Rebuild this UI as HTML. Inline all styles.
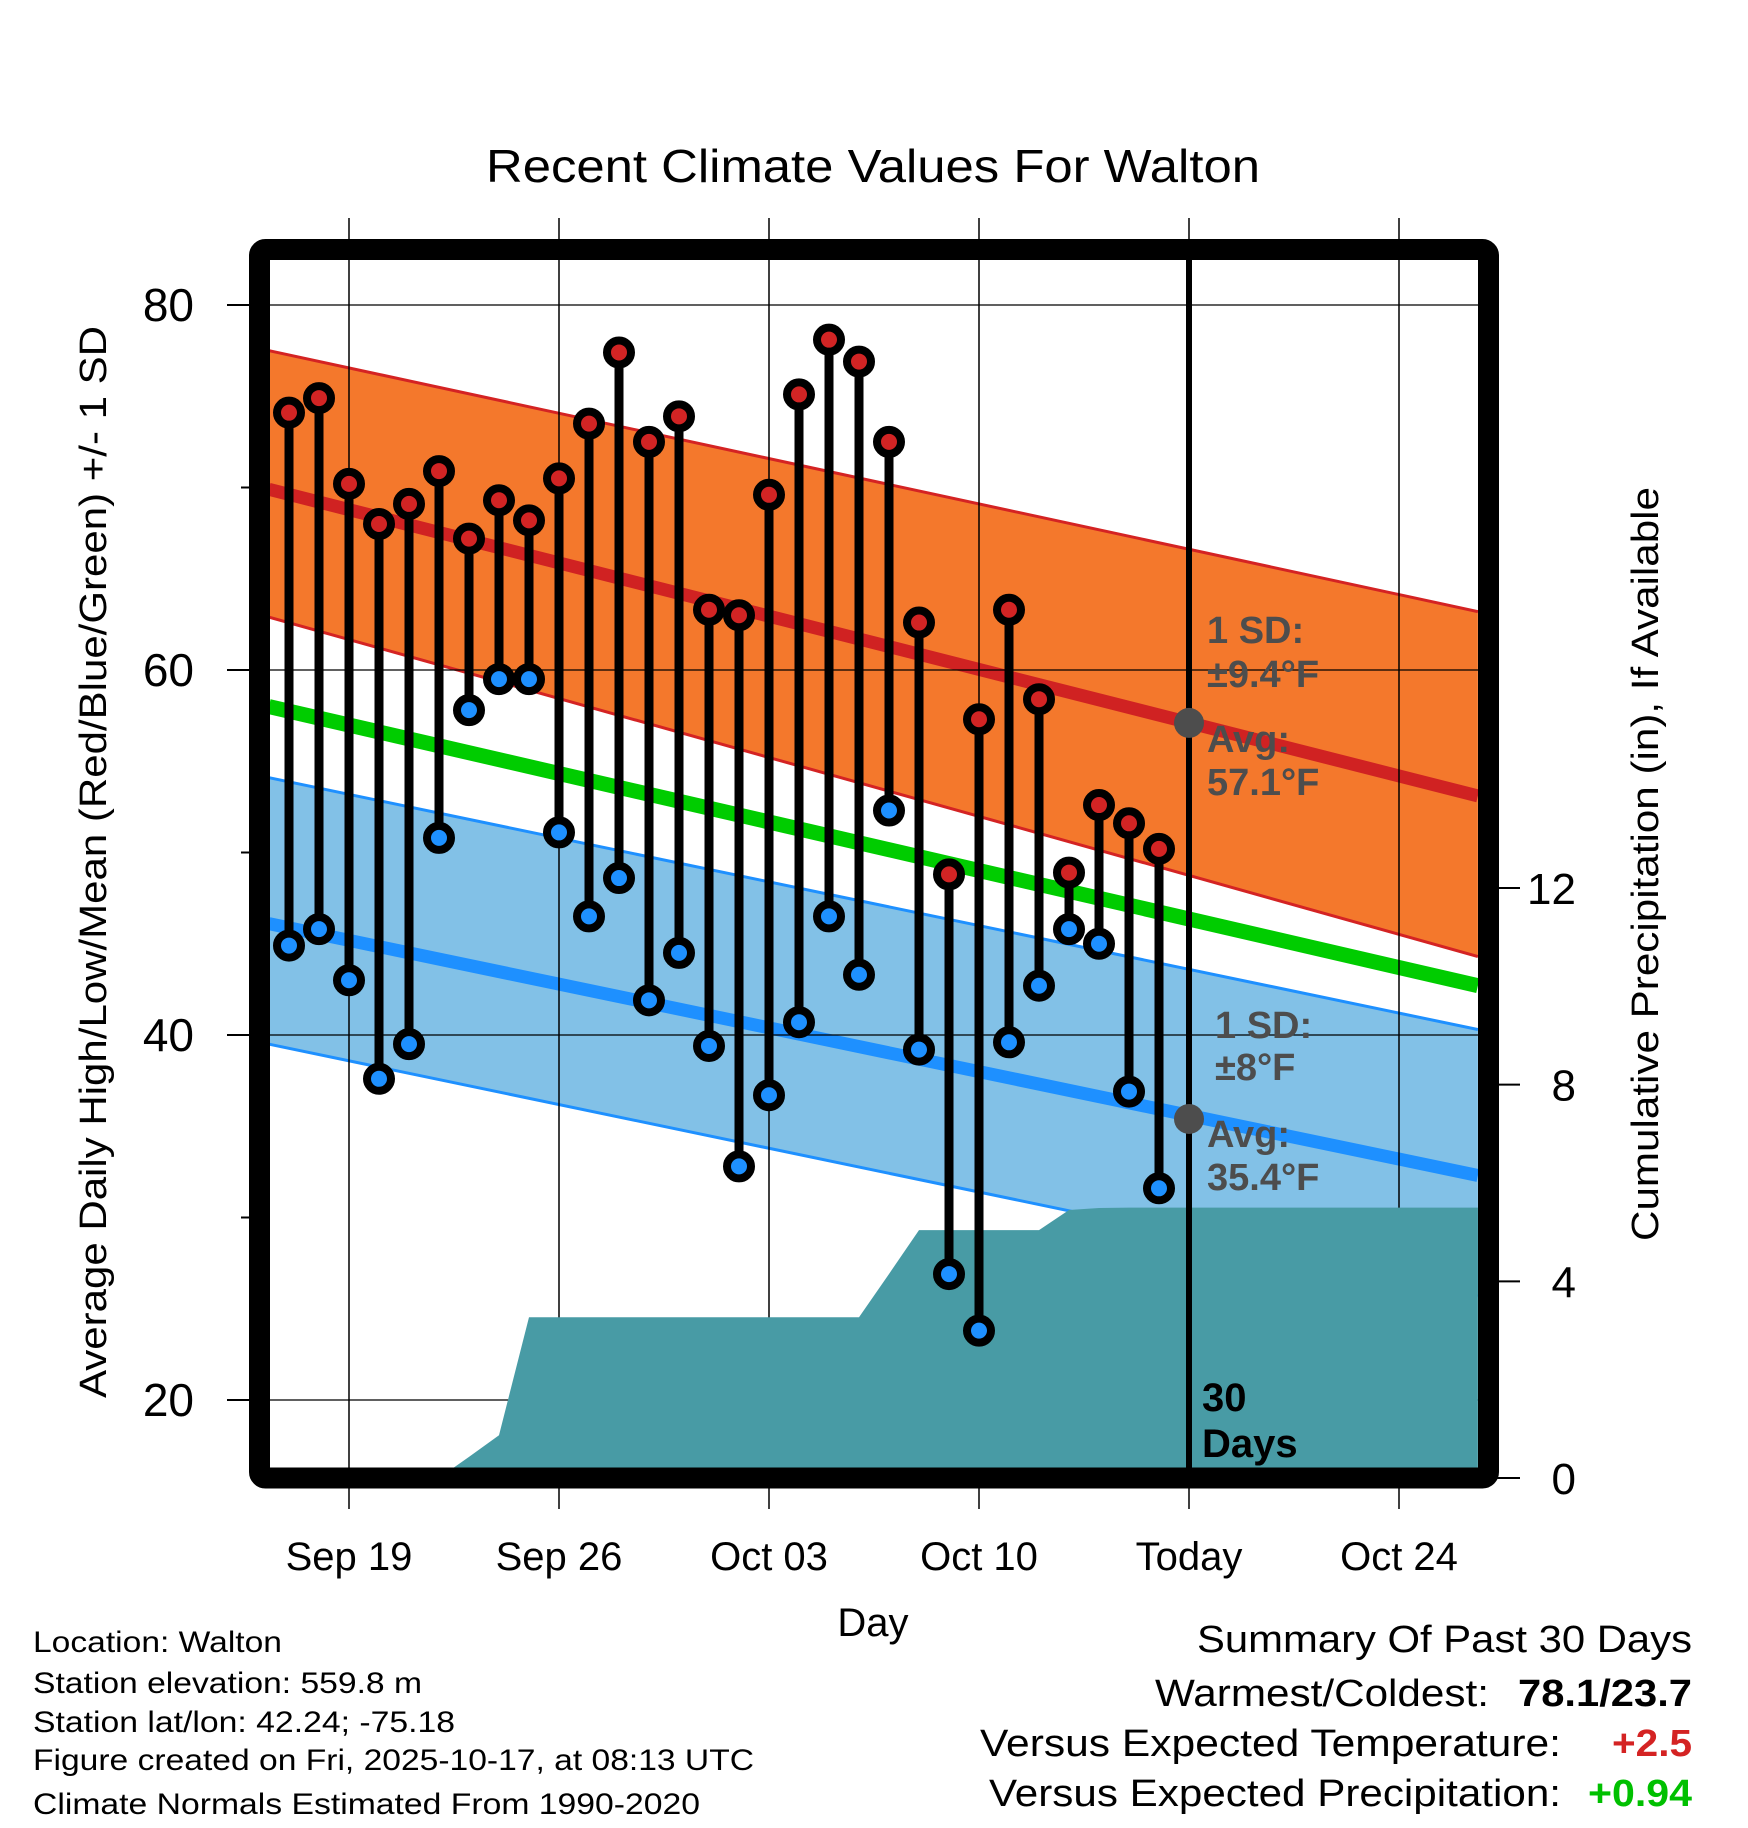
<!DOCTYPE html>
<html><head><meta charset="utf-8"><style>
html,body{margin:0;padding:0;background:#fff;}
svg{display:block;font-family:"Liberation Sans",Arial,sans-serif;}
</style></head><body>
<svg id="chart" width="1748" height="1828" viewBox="0 0 1748 1828" xmlns="http://www.w3.org/2000/svg">
<defs><clipPath id="plotclip"><rect x="270" y="260" width="1208" height="1208"/></clipPath></defs>
<g id="plot" clip-path="url(#plotclip)"></g>
<g id="over"></g>
</svg>
<script>
// ---- data ----
const dayLabels = ["Sep 19","Sep 26","Oct 03","Oct 10","Today","Oct 24"];
const dayLabelIdx = [2,9,16,23,30,37];
const highs = [74.1,74.9,70.2,68.0,69.1,70.9,67.2,69.3,68.2,70.5,73.5,77.4,72.5,73.9,63.3,63.0,69.6,75.1,78.1,76.9,72.5,62.6,48.8,57.3,63.3,58.4,48.9,52.6,51.6,50.2];
const lows = [44.9,45.8,43.0,37.6,39.5,50.8,57.8,59.5,59.5,51.1,46.5,48.6,41.9,44.5,39.4,32.8,36.7,40.7,46.5,43.3,52.3,39.2,26.9,23.8,39.6,42.7,45.8,45.0,36.9,31.6];
const precip = [0,0,0,0,0,0,0.43,0.87,3.27,3.27,3.27,3.27,3.27,3.27,3.27,3.27,3.27,3.27,3.27,3.27,4.15,5.04,5.04,5.04,5.04,5.04,5.45,5.49,5.5,5.5];
const normIdx = [-0.67, 39.63];
const hiSdUpper = [77.5,63.2];
const hiMean = [69.9,53.1];
const hiSdLower = [62.9,44.3];
const meanLine = [58.0,42.7];
const loSdUpper = [54.1,40.3];
const loMean = [46.1,32.3];
const loSdLower = [39.5,25.7];
const yTicks = [80,60,40,20];
const yMinor = [70,50,30];
const pTicks = [0,4,8,12];
// ---- scales ----
const X = d => 289 + 30*d;
const Y = v => 305 + (80 - v)*18.25;
const P = v => 1478 - v*49.17;
const NS = "http://www.w3.org/2000/svg";
const plot = document.getElementById('plot');
const over = document.getElementById('over');
function mk(parent, tag, attrs, text){
  const e = document.createElementNS(NS, tag);
  for (const k in attrs) e.setAttribute(k, attrs[k]);
  if (text !== undefined) e.textContent = text;
  parent.appendChild(e); return e;
}
function band(a, b, fill){
  const pts = [[X(normIdx[0]),Y(a[0])],[X(normIdx[1]),Y(a[1])],[X(normIdx[1]),Y(b[1])],[X(normIdx[0]),Y(b[0])]];
  return mk(plot,'polygon',{points:pts.map(p=>p.join(',')).join(' '),fill:fill});
}
function nline(a, color, w){
  return mk(plot,'line',{x1:X(normIdx[0]),y1:Y(a[0]),x2:X(normIdx[1]),y2:Y(a[1]),stroke:color,'stroke-width':w});
}
let e;
e = band(hiSdUpper, hiSdLower, '#f4782c');
 
e = band(loSdUpper, loSdLower, '#82c1e7');
 
e = nline(hiSdUpper, '#d42323', 3);
 
e = nline(hiSdLower, '#d42323', 3);
 
e = nline(loSdUpper, '#1e90ff', 3);
 
e = nline(loSdLower, '#1e90ff', 3);
 
e = nline(hiMean, '#d02222', 13);
 
e = nline(loMean, '#1e90ff', 13);
 
e = nline(meanLine, '#00cc00', 15);
 
// gridlines
yTicks.forEach(v=>{
  const g = mk(plot,'line',{x1:270,x2:1478,y1:Y(v),y2:Y(v),stroke:'#000','stroke-width':1.3});
  
  
});
dayLabelIdx.forEach((d,i)=>{
  if (i===4) return;
  const g = mk(plot,'line',{x1:X(d),x2:X(d),y1:260,y2:1468,stroke:'#000','stroke-width':1.5});
  
  
});
// precip area
(function(){
  let pts = [[X(normIdx[0]),P(0)]];
  precip.forEach((v,i)=>pts.push([X(i),P(v)]));
  pts.push([X(normIdx[1]),P(precip[precip.length-1])]);
  pts.push([X(normIdx[1]),P(0)+20]); pts.push([X(normIdx[0]),P(0)+20]);
  const a = mk(plot,'polygon',{points:pts.map(p=>p.join(',')).join(' '),fill:'#489ba5'});
  
  
})();
// today line
e = mk(over,'line',{x1:X(30),x2:X(30),y1:258,y2:1470,stroke:'#000','stroke-width':6});
 
// stems and dots
highs.forEach((h,i)=>{
  const s = mk(over,'line',{x1:X(i),x2:X(i),y1:Y(h),y2:Y(lows[i]),stroke:'#000','stroke-width':9});
  
  
});
highs.forEach((h,i)=>{
  const c = mk(over,'circle',{cx:X(i),cy:Y(h),r:12,fill:'#d22424',stroke:'#000','stroke-width':8});
  
  
  const c2 = mk(over,'circle',{cx:X(i),cy:Y(lows[i]),r:12,fill:'#1e90ff',stroke:'#000','stroke-width':8});
  
  
});
// today normal dots
e = mk(over,'circle',{cx:X(30),cy:Y(57.1),r:15,fill:'#4d4d4d'});
 
e = mk(over,'circle',{cx:X(30),cy:Y(35.4),r:15,fill:'#4d4d4d'});
 
// annotations
const ann = [["1 SD:",1207,643],["\u00B19.4\u00B0F",1207,687],["Avg:",1207,752],["57.1\u00B0F",1207,795],["1 SD:",1215,1038],["\u00B18\u00B0F",1215,1080],["Avg:",1207,1147],["35.4\u00B0F",1207,1190]];
ann.forEach(a=>{
  const t = mk(over,'text',{x:a[1],y:a[2],'font-size':38,'font-weight':'bold',fill:'#4d4d4d'},a[0]);
  
  
});
e = mk(over,'text',{x:1202,y:1411,'font-size':40,'font-weight':'bold',fill:'#000'},"30");
 
e = mk(over,'text',{x:1202,y:1457,'font-size':40,'font-weight':'bold',fill:'#000'},"Days");
 
// frame
e = mk(over,'rect',{x:259.5,y:249.5,width:1229,height:1228.5,fill:'none',stroke:'#000','stroke-width':21,rx:6});
 
// ticks
yTicks.forEach(v=>{
  const t = mk(over,'line',{x1:227,x2:252,y1:Y(v),y2:Y(v),stroke:'#000','stroke-width':2});
  
  
  const l = mk(over,'text',{x:194,y:Y(v)+16,'font-size':46,'text-anchor':'end'},String(v));
  
  
});
yMinor.forEach(v=>{
  const t = mk(over,'line',{x1:241,x2:252,y1:Y(v),y2:Y(v),stroke:'#000','stroke-width':2});
  
  
});
pTicks.forEach(v=>{
  const t = mk(over,'line',{x1:1495,x2:1520,y1:P(v),y2:P(v),stroke:'#000','stroke-width':2});
  
  
  const l = mk(over,'text',{x:1576,y:P(v)+16,'font-size':44,'text-anchor':'end'},String(v));
  
  
});
dayLabelIdx.forEach((d,i)=>{
  const t1 = mk(over,'line',{x1:X(d),x2:X(d),y1:218,y2:240,stroke:'#000','stroke-width':1.5});
  
  
  const t2 = mk(over,'line',{x1:X(d),x2:X(d),y1:1488,y2:1509,stroke:'#000','stroke-width':1.5});
  
  
  const l = mk(over,'text',{x:X(d),y:1570,'font-size':40,'text-anchor':'middle'},dayLabels[i]);
  
  
});
</script>
<script>
(function(){
const s = document.getElementById('chart');
const NS="http://www.w3.org/2000/svg";
function t(txt, a, name){
  const e = document.createElementNS(NS,'text');
  for (const k in a) e.setAttribute(k,a[k]);
  e.textContent = txt;
  
  
  s.appendChild(e);
}
t("Recent Climate Values For Walton",{x:486,y:182,'font-size':46,textLength:774,lengthAdjust:'spacingAndGlyphs'},'chart-title');
t("Day",{x:873,y:1636,'font-size':40,'text-anchor':'middle'},'x-axis-title');
t("Average Daily High/Low/Mean (Red/Blue/Green) +/- 1 SD",{x:-1398,y:106,'font-size':38,transform:'rotate(-90)',textLength:1072,lengthAdjust:'spacingAndGlyphs'},'y-axis-title');
t("Cumulative Precipitation (in), If Available",{x:-1241,y:1658,'font-size':38,transform:'rotate(-90)',textLength:754,lengthAdjust:'spacingAndGlyphs'},'precip-axis-title');
const L = [["Location: Walton",1652,249],["Station elevation: 559.8 m",1693,389],["Station lat/lon: 42.24; -75.18",1732,422],["Figure created on Fri, 2025-10-17, at 08:13 UTC",1770,721],["Climate Normals Estimated From 1990-2020",1814,667]];
L.forEach(l=>t(l[0],{x:33,y:l[1],'font-size':30,textLength:l[2],lengthAdjust:'spacingAndGlyphs'},'station-info-line'));
t("Summary Of Past 30 Days",{x:1197,y:1652,'font-size':38,textLength:495,lengthAdjust:'spacingAndGlyphs'},'summary-title');
t("Warmest/Coldest:",{x:1155,y:1706,'font-size':38,textLength:334,lengthAdjust:'spacingAndGlyphs'},'warmest-coldest-label');
t("78.1/23.7",{x:1518,y:1706,'font-size':38,'font-weight':'bold',textLength:174,lengthAdjust:'spacingAndGlyphs'},'warmest-coldest-value');
t("Versus Expected Temperature:",{x:980,y:1756,'font-size':38,textLength:581,lengthAdjust:'spacingAndGlyphs'},'temp-departure-label');
t("+2.5",{x:1612,y:1756,'font-size':38,'font-weight':'bold',fill:'#d42323',textLength:80,lengthAdjust:'spacingAndGlyphs'},'temp-departure-value');
t("Versus Expected Precipitation:",{x:989,y:1806,'font-size':38,textLength:572,lengthAdjust:'spacingAndGlyphs'},'precip-departure-label');
t("+0.94",{x:1588,y:1806,'font-size':38,'font-weight':'bold',fill:'#00c000',textLength:104,lengthAdjust:'spacingAndGlyphs'},'precip-departure-value');
})();
</script>
</body></html>
